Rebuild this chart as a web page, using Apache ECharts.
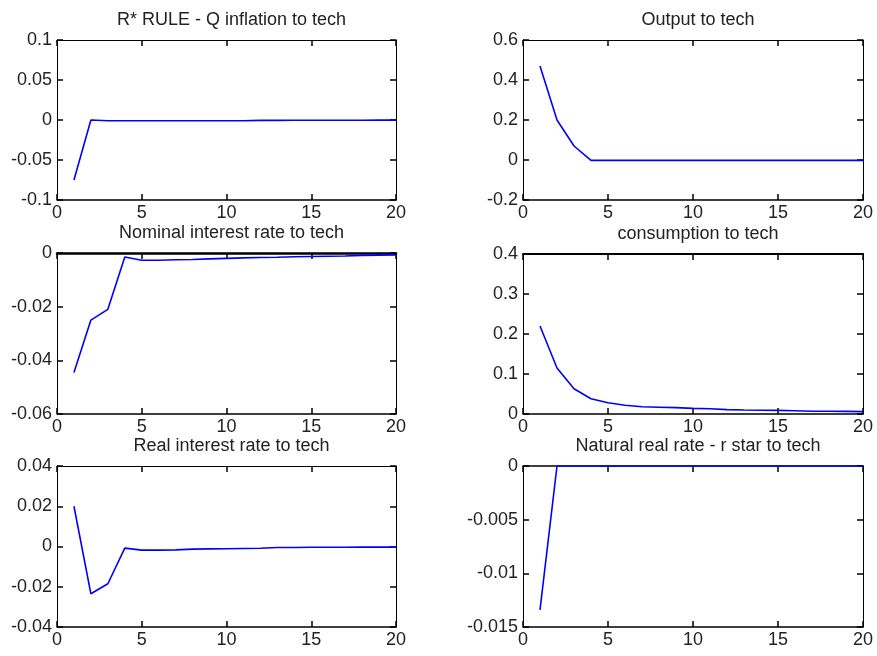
<!DOCTYPE html>
<html><head><meta charset="utf-8">
<script src="https://cdn.jsdelivr.net/npm/echarts@6/dist/echarts.min.js"></script>
<style>html,body{margin:0;padding:0;background:#fff}#c{width:877px;height:656px}</style>
</head><body><div id="c"></div>
<script>
const periods = [1,2,3,4,5,6,7,8,9,10,11,12,13,14,15,16,17,18,19,20];
const titles = ["R* RULE - Q inflation to tech","Output to tech","Nominal interest rate to tech","consumption to tech","Real interest rate to tech","Natural real rate - r star to tech"];
const qInflation = [-0.075,0,-0.001,-0.001,-0.001,-0.001,-0.001,-0.001,-0.001,-0.001,-0.001,-0.0005,-0.0005,-0.0004,-0.0004,-0.0003,-0.0003,-0.0003,-0.0002,-0.0002];
const output = [0.47,0.20,0.07,-0.002,-0.002,-0.002,-0.002,-0.002,-0.002,-0.002,-0.002,-0.002,-0.002,-0.002,-0.002,-0.002,-0.002,-0.002,-0.002,-0.002];
const nominalRate = [-0.0445,-0.025,-0.021,-0.0015,-0.0027,-0.0027,-0.0025,-0.0024,-0.0022,-0.002,-0.0018,-0.0017,-0.0016,-0.0014,-0.0013,-0.0012,-0.0011,-0.0009,-0.0008,-0.0007];
const consumption = [0.22,0.115,0.063,0.038,0.028,0.022,0.018,0.017,0.016,0.014,0.013,0.011,0.010,0.0095,0.009,0.008,0.007,0.007,0.0065,0.006];
const realRate = [0.02,-0.0235,-0.0185,-0.0008,-0.0018,-0.0018,-0.0017,-0.0013,-0.0012,-0.0011,-0.001,-0.0009,-0.0005,-0.0005,-0.0004,-0.0004,-0.0004,-0.0003,-0.0003,-0.0003];
const naturalRate = [-0.0134,0,0,0,0,0,0,0,0,0,0,0,0,0,0,0,0,0,0,0];
const yTicks = [
  {min:-0.1,max:0.1,interval:0.05},
  {min:-0.2,max:0.6,interval:0.2},
  {min:-0.06,max:0,interval:0.02},
  {min:0,max:0.4,interval:0.1},
  {min:-0.04,max:0.04,interval:0.02},
  {min:-0.015,max:0,interval:0.005}
];
const seriesData = [qInflation,output,nominalRate,consumption,realRate,naturalRate];

const grids = [
  {left:57,top:40,width:339,height:160},
  {left:523,top:40,width:340,height:160},
  {left:57,top:253,width:339,height:161},
  {left:523,top:254,width:340,height:160},
  {left:57,top:466,width:339,height:161},
  {left:523,top:466,width:340,height:161}
];
const topWidth = [1,1,2.5,2,1,1.5];
const FONT = 'Liberation Sans, Arial, sans-serif';
const option = {animation:false,grid:[],xAxis:[],yAxis:[],series:[],title:[]};
grids.forEach((g,i)=>{
  option.grid.push({left:g.left,top:g.top,width:g.width,height:g.height});
  option.title.push({text:titles[i],left:g.left+g.width/2,textAlign:'center',top:g.top-34,
    textStyle:{fontFamily:FONT,fontSize:18,fontWeight:'normal',color:'#222'}});
  const fmt = v => String(+v.toFixed(6));
  const tick = () => ({show:true,inside:true,length:6,lineStyle:{color:'#000',width:1.5}});
  option.xAxis.push({type:'value',gridIndex:i,min:0,max:20,interval:5,position:'bottom',
    axisLine:{show:true,onZero:false,lineStyle:{color:'#000',width:1.5}},axisTick:tick(),splitLine:{show:false},
    axisLabel:{fontFamily:FONT,fontSize:18,color:'#222',margin:4}});
  option.xAxis.push({type:'value',gridIndex:i,min:0,max:20,interval:5,position:'top',
    axisLine:{show:true,onZero:false,lineStyle:{color:'#000',width:topWidth[i]}},axisTick:tick(),splitLine:{show:false},
    axisLabel:{show:true,color:'rgba(0,0,0,0)',fontSize:1}});
  const yt = yTicks[i];
  option.yAxis.push({type:'value',gridIndex:i,min:yt.min,max:yt.max,interval:yt.interval,position:'left',
    axisLine:{show:true,onZero:false,lineStyle:{color:'#000',width:1}},axisTick:tick(),splitLine:{show:false},
    axisLabel:{fontFamily:FONT,fontSize:18,color:'#222',margin:5,formatter:fmt}});
  option.yAxis.push({type:'value',gridIndex:i,min:yt.min,max:yt.max,interval:yt.interval,position:'right',
    axisLine:{show:true,onZero:false,lineStyle:{color:'#000',width:1}},axisTick:tick(),splitLine:{show:false},
    axisLabel:{show:true,color:'rgba(0,0,0,0)',fontSize:1}});
  option.series.push({type:'line',xAxisIndex:2*i,yAxisIndex:2*i,showSymbol:false,symbol:'none',z:5,
    lineStyle:{color:'#0000ff',width:1.6},data:periods.map((p,k)=>[p,seriesData[i][k]])});
});
const chart = echarts.init(document.getElementById('c'),null,{renderer:'canvas'});
chart.setOption(option);
</script></body></html>
